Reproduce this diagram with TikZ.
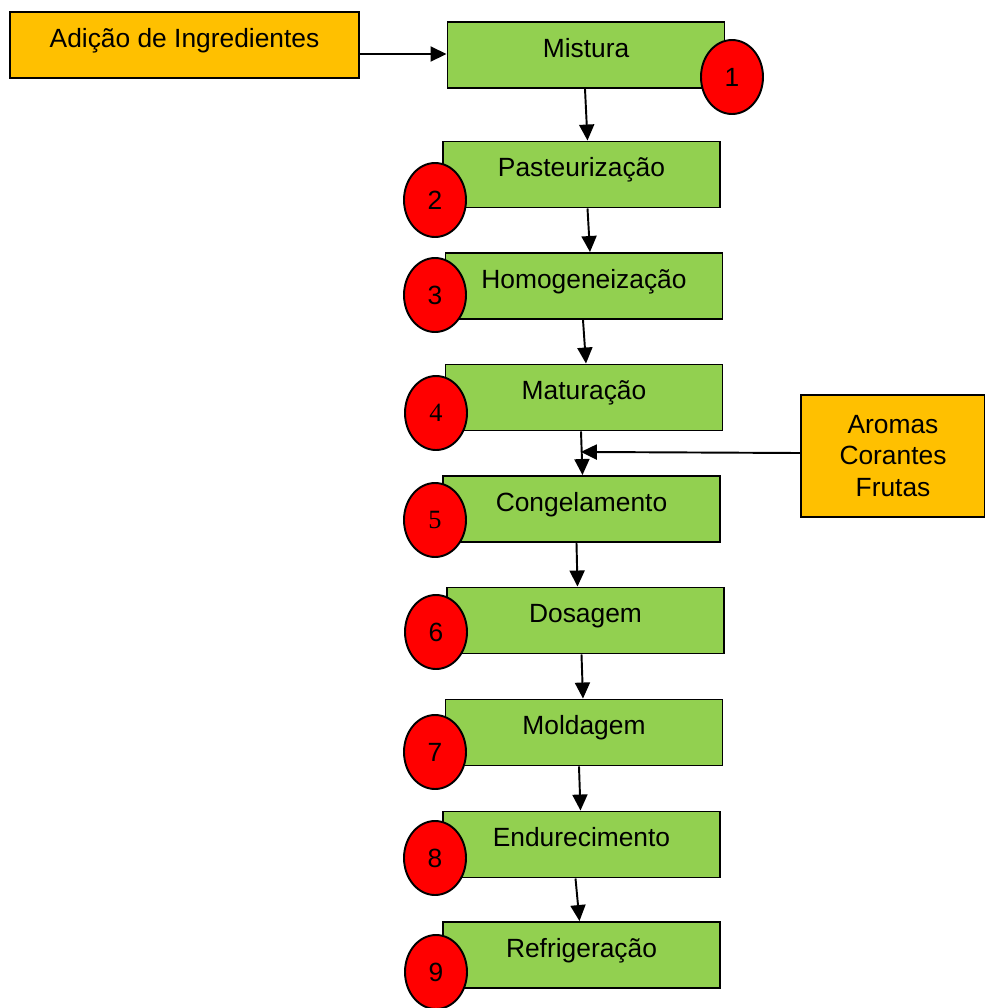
\documentclass[tikz,border=0pt]{standalone}
\usepackage{fontspec}
\setmainfont{Liberation Sans}
\newfontfamily\timesfont{Liberation Serif}
\usetikzlibrary{shapes.geometric,arrows.meta,calc}
\definecolor{verde}{RGB}{146,208,80}
\definecolor{laranja}{RGB}{255,192,0}
\definecolor{vermelho}{RGB}{255,0,0}
\tikzset{
  etapa/.style={draw, fill=verde, line width=1.1pt, minimum width=55.4mm, minimum height=13.2mm, inner sep=0pt, text height=0.75em, text depth=0.52em},
  entrada/.style={draw, fill=laranja, line width=1.1pt, inner sep=0pt},
  num/.style={draw, ellipse, fill=vermelho, line width=1.1pt, minimum width=12.4mm, minimum height=14.8mm, inner sep=0pt},
  seta/.style={line width=1.1pt, -{Triangle[length=3.2mm,width=3mm]}}
}

\begin{document}
\begin{tikzpicture}[x=0.2mm, y=-0.2mm, font=\fontsize{15}{18}\selectfont]
\useasboundingbox (0,0) rectangle (985,1008);
\node [entrada, minimum width=69.8mm, minimum height=13.2mm, text height=0.75em, text depth=0.52em] (adicao) at (184.5,45) {Adição de Ingredientes};
\node [etapa] (mistura) at (586,55) {Mistura};
\node [etapa] (pasteur) at (581.5,174.5) {Pasteurização};
\node [etapa] (homog) at (584,286) {Homogeneização};
\node [etapa] (matur) at (584,397.5) {Maturação};
\node [etapa] (congel) at (581.5,509) {Congelamento};
\node [etapa] (dosagem) at (585.5,620.5) {Dosagem};
\node [etapa] (moldagem) at (584,732.5) {Moldagem};
\node [etapa] (endurec) at (581.5,844.5) {Endurecimento};
\node [etapa] (refrig) at (581.5,955) {Refrigeração};
\node [entrada, minimum width=36.8mm, minimum height=24.4mm, align=center] (aromas) at (893,456) {Aromas\\Corantes\\Frutas};
% numeros das etapas
\node [num] (n1) at (732,77) {1};
\node [num] (n2) at (435,200) {2};
\node [num] (n3) at (435,295) {3};
\node [num] (n4) at (436,413) {\timesfont 4};
\node [num] (n5) at (435,520) {\timesfont 5};
\node [num] (n6) at (436,632) {6};
\node [num] (n7) at (435,752) {7};
\node [num] (n8) at (435,858) {8};
\node [num] (n9) at (436,972) {9};
% setas
\draw [seta] (adicao.east |- 0,54) -- (mistura.west |- 0,54);
\draw [seta] ($(mistura.south)+(-1,0)$) -- ($(pasteur.north)+(6,0)$);
\draw [seta] ($(pasteur.south)+(6,0)$) -- ($(homog.north)+(6,0)$);
\draw [seta] ($(homog.south)+(-1,0)$) -- ($(matur.north)+(2,0)$);
\draw [seta] ($(matur.south)+(-3,0)$) -- ($(congel.north)+(1,0)$);
\coordinate (juncao) at ($(matur.south)!0.47!(congel.north)+(-2,0)$);
\draw [seta] (aromas.west |- 0,453) -- (juncao);
\draw [seta] ($(congel.south)+(-5,0)$) -- ($(dosagem.north)+(-8,0)$);
\draw [seta] ($(dosagem.south)+(-4,0)$) -- ($(moldagem.north)+(-1,0)$);
\draw [seta] ($(moldagem.south)+(-5,0)$) -- ($(endurec.north)+(-1,0)$);
\draw [seta] ($(endurec.south)+(-6,0)$) -- ($(refrig.north)+(-2,0)$);
\end{tikzpicture}
\end{document}
